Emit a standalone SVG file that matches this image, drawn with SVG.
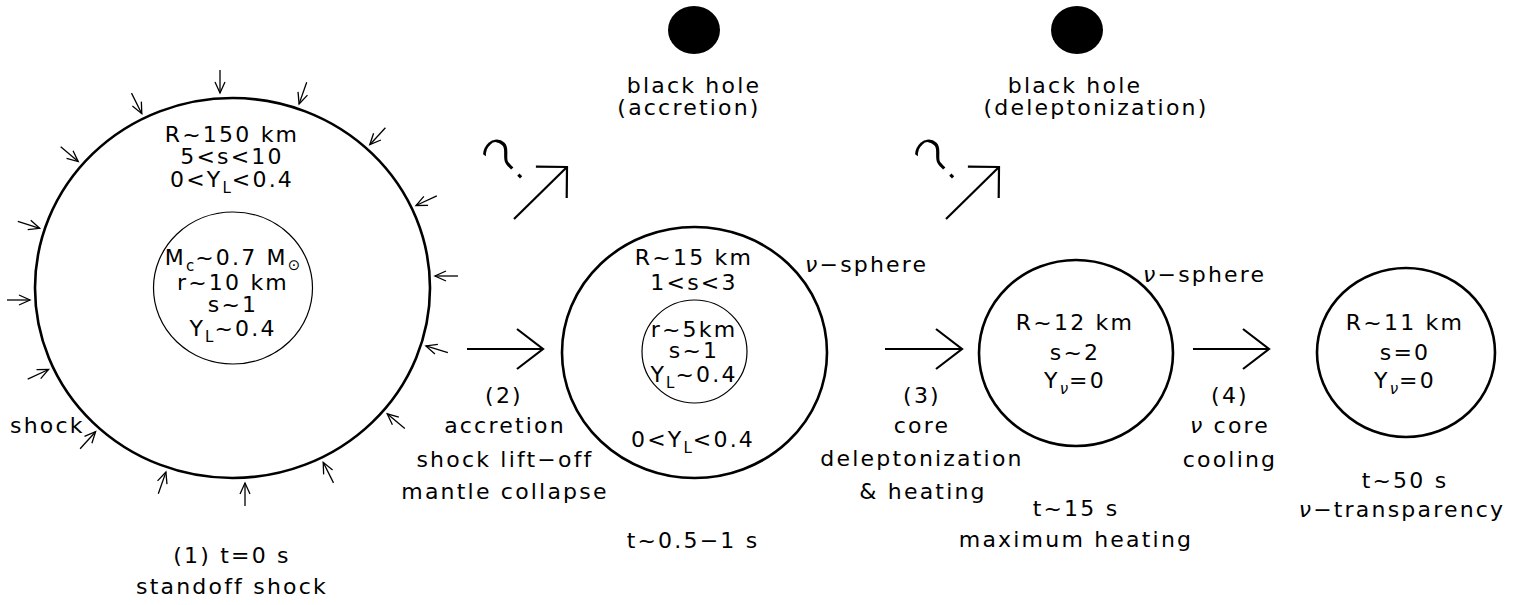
<svg xmlns="http://www.w3.org/2000/svg" width="1535" height="605" viewBox="0 0 1535 605">
  <style>
    text { font-family: "DejaVu Sans", "Liberation Sans", sans-serif; font-size: 22px; letter-spacing: 2.2px; fill: #000; }
    .c { text-anchor: middle; }
    .sub { font-size: 15px; letter-spacing: 1px; }
    .nu { font-style: italic; }
    .q { font-size: 64px; font-weight: 200; letter-spacing: 0; text-anchor: middle; }
    .outer { fill: none; stroke: #000; stroke-width: 2.6; }
    .inner { fill: none; stroke: #000; stroke-width: 1.2; }
    .bh { fill: #000; }
    .big { fill: none; stroke: #000; stroke-width: 2.2; }
    .small { fill: none; stroke: #000; stroke-width: 1.3; marker-end: url(#tiny); }
  </style>
  <defs>
    <marker id="head" markerUnits="userSpaceOnUse" orient="auto" refX="0" refY="0" markerWidth="40" markerHeight="50" viewBox="-32 -25 40 50" overflow="visible">
      <path d="M-26,-20 L0,0 L-26,20" fill="none" stroke="#000" stroke-width="2.2"/>
    </marker>
    <marker id="headDiag" markerUnits="userSpaceOnUse" orient="auto" refX="0" refY="0" markerWidth="40" markerHeight="50" viewBox="-30 -25 40 50" overflow="visible">
      <path d="M-22,-22 L0,0 L-22,22" fill="none" stroke="#000" stroke-width="2.2"/>
    </marker>
    <marker id="tiny" markerUnits="userSpaceOnUse" orient="auto" refX="0" refY="0" markerWidth="16" markerHeight="14" viewBox="-13 -7 16 14" overflow="visible">
      <path d="M-11,-5 L0,0 L-11,5" fill="none" stroke="#000" stroke-width="1.3"/>
    </marker>
  </defs>
  <rect width="1535" height="605" fill="#fff"/>

  <!-- stage 1: standoff shock -->
  <g id="stage1">
    <ellipse class="outer" cx="232.5" cy="288" rx="197.5" ry="190"/>
    <ellipse class="inner" cx="233" cy="288" rx="79.5" ry="76"/>
    <text class="c" x="232" y="142">R~150 km</text>
    <text class="c" x="232" y="164">5&lt;s&lt;10</text>
    <text class="c" x="232" y="187">0&lt;Y<tspan class="sub" dy="6">L</tspan><tspan dy="-6">&lt;0.4</tspan></text>
    <text class="c" x="233" y="265">M<tspan class="sub" dy="6">c</tspan><tspan dy="-6">~0.7 M</tspan><tspan class="sub" dy="5">⊙</tspan></text>
    <text class="c" x="233" y="290">r~10 km</text>
    <text class="c" x="233" y="312">s~1</text>
    <text class="c" x="233" y="336">Y<tspan class="sub" dy="6">L</tspan><tspan dy="-6">~0.4</tspan></text>
    <text x="10" y="433">shock</text>
    <text class="c" x="232" y="563">(1) t=0 s</text>
    <text class="c" x="232" y="594">standoff shock</text>
  </g>

  <!-- infalling matter arrows around the shock front -->
  <g id="infall">
    <line class="small" x1="220" y1="70" x2="220" y2="93"/>
    <line class="small" x1="131.5" y1="93.1" x2="141.8" y2="113.7"/>
    <line class="small" x1="306.7" y1="82.2" x2="299.1" y2="103.9"/>
    <line class="small" x1="385.4" y1="127.8" x2="369.8" y2="144.7"/>
    <line class="small" x1="60.7" y1="146.7" x2="78.2" y2="161.6"/>
    <line class="small" x1="436.8" y1="195.8" x2="416" y2="205.5"/>
    <line class="small" x1="17.8" y1="221.3" x2="39.7" y2="228.3"/>
    <line class="small" x1="7" y1="300" x2="30" y2="300"/>
    <line class="small" x1="458" y1="276" x2="435" y2="276"/>
    <line class="small" x1="27.7" y1="379.1" x2="48.6" y2="369.5"/>
    <line class="small" x1="447.9" y1="352.7" x2="425.9" y2="345.9"/>
    <line class="small" x1="80.1" y1="448.7" x2="95.6" y2="431.7"/>
    <line class="small" x1="404.8" y1="428.6" x2="387.2" y2="413.8"/>
    <line class="small" x1="158.3" y1="493.8" x2="165.9" y2="472.1"/>
    <line class="small" x1="333.5" y1="482.9" x2="323.2" y2="462.3"/>
    <line class="small" x1="245" y1="506" x2="245" y2="483"/>
  </g>

  <!-- stage 2: accretion -->
  <g id="stage2">
    <ellipse class="outer" cx="694.5" cy="352.5" rx="132.5" ry="125.5"/>
    <ellipse class="inner" cx="694.5" cy="351.5" rx="52.5" ry="51.5"/>
    <text class="c" x="694" y="265">R~15 km</text>
    <text class="c" x="694" y="290">1&lt;s&lt;3</text>
    <text class="c" x="694" y="337">r~5km</text>
    <text class="c" x="694" y="358">s~1</text>
    <text class="c" x="694" y="382">Y<tspan class="sub" dy="6">L</tspan><tspan dy="-6">~0.4</tspan></text>
    <text class="c" x="693" y="447">0&lt;Y<tspan class="sub" dy="6">L</tspan><tspan dy="-6">&lt;0.4</tspan></text>
    <text x="805" y="272"><tspan class="nu">ν</tspan>−sphere</text>
    <text class="c" x="693" y="548">t~0.5−1 s</text>
  </g>

  <!-- stage 3: maximum heating -->
  <g id="stage3">
    <ellipse class="outer" cx="1076" cy="353" rx="97" ry="93"/>
    <text class="c" x="1075" y="330">R~12 km</text>
    <text class="c" x="1075" y="360">s~2</text>
    <text class="c" x="1075" y="388">Y<tspan class="sub nu" dy="6">ν</tspan><tspan dy="-6">=0</tspan></text>
    <text x="1143" y="282"><tspan class="nu">ν</tspan>−sphere</text>
    <text class="c" x="1076" y="516">t~15 s</text>
    <text class="c" x="1076" y="547">maximum heating</text>
  </g>

  <!-- stage 4: transparency -->
  <g id="stage4">
    <ellipse class="outer" cx="1406" cy="352.5" rx="89" ry="84.5"/>
    <text class="c" x="1405" y="330">R~11 km</text>
    <text class="c" x="1405" y="360">s=0</text>
    <text class="c" x="1405" y="388">Y<tspan class="sub nu" dy="6">ν</tspan><tspan dy="-6">=0</tspan></text>
    <text class="c" x="1405" y="488">t~50 s</text>
    <text class="c" x="1402" y="517"><tspan class="nu">ν</tspan>−transparency</text>
  </g>

  <!-- black hole branches -->
  <g id="bh1">
    <ellipse class="bh" cx="694" cy="30" rx="26" ry="24"/>
    <text class="c" x="694" y="93">black hole</text>
    <text class="c" x="689" y="115">(accretion)</text>
  </g>
  <g id="bh2">
    <ellipse class="bh" cx="1077" cy="30" rx="26" ry="24"/>
    <text class="c" x="1075" y="93">black hole</text>
    <text class="c" x="1096" y="115">(deleptonization)</text>
  </g>

  <!-- transitions -->
  <g id="connectors">
    <line class="big" x1="467" y1="349" x2="543" y2="349" marker-end="url(#head)"/>
    <text class="c" x="504" y="403">(2)</text>
    <text class="c" x="505" y="433">accretion</text>
    <text class="c" x="505" y="467">shock lift−off</text>
    <text class="c" x="505" y="499">mantle collapse</text>

    <line class="big" x1="885" y1="349" x2="962" y2="349" marker-end="url(#head)"/>
    <text class="c" x="922" y="403">(3)</text>
    <text class="c" x="922" y="433">core</text>
    <text class="c" x="922" y="466">deleptonization</text>
    <text class="c" x="923" y="499">&amp; heating</text>

    <line class="big" x1="1193" y1="349" x2="1269" y2="349" marker-end="url(#head)"/>
    <text class="c" x="1230" y="403">(4)</text>
    <text class="c" x="1230" y="433"><tspan class="nu">ν</tspan> core</text>
    <text class="c" x="1230" y="467">cooling</text>

    <line class="big" x1="514" y1="219" x2="567" y2="167" marker-end="url(#headDiag)"/>
    <text class="q" transform="translate(519,173) rotate(-45)" x="0" y="4.5">?</text>
    <line class="big" x1="946" y1="219" x2="999" y2="167" marker-end="url(#headDiag)"/>
    <text class="q" transform="translate(951,173) rotate(-45)" x="0" y="4.5">?</text>
  </g>
</svg>
